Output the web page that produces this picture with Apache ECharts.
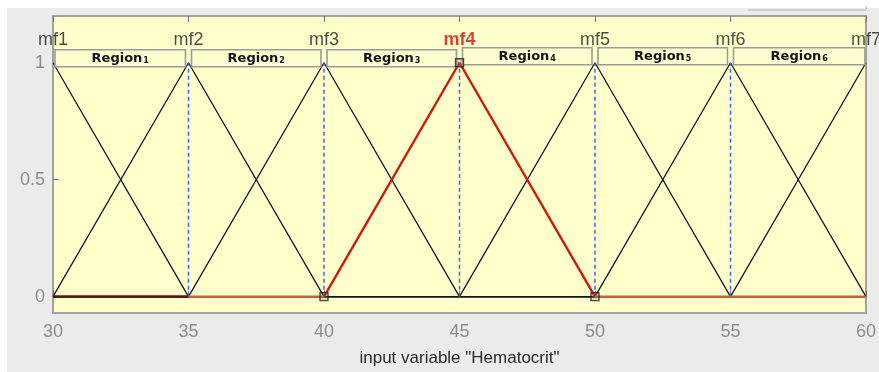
<!DOCTYPE html>
<html>
<head>
<meta charset="utf-8">
<script src="https://cdn.jsdelivr.net/npm/echarts@6/dist/echarts.min.js"></script>
<style>
  html, body { margin: 0; padding: 0; background: #ffffff; }
  #chart { width: 879px; height: 372px; }
</style>
</head>
<body>
<div id="chart"></div>
<script>
// Membership functions of the input variable "Hematocrit" (triangular: a, b, c)
const xTicks = [30, 35, 40, 45, 50, 55, 60];
const yTicks = [0, 0.5, 1];
const mfNames = ['mf1', 'mf2', 'mf3', 'mf4', 'mf5', 'mf6', 'mf7'];
const mfParams = [
  [25, 30, 35],
  [30, 35, 40],
  [35, 40, 45],
  [40, 45, 50],
  [45, 50, 55],
  [50, 55, 60],
  [55, 60, 65]
];
const selectedMf = 'mf4';
const regionNames = ['Region', 'Region', 'Region', 'Region', 'Region', 'Region'];
const regionIds = ['1', '2', '3', '4', '5', '6'];
const regionSpans = [[30, 35], [35, 40], [40, 45], [45, 50], [50, 55], [55, 60]];
const axisTitle = 'input variable "Hematocrit"';

const xMin = xTicks[0], xMax = xTicks[xTicks.length - 1];

function trimf(x, p) {
  const [a, b, c] = p;
  if (x <= a || x >= c) return x === b ? 1 : 0;
  if (x <= b) return (x - a) / (b - a);
  return (c - x) / (c - b);
}
function curve(p, lo, hi) {
  lo = lo === undefined ? xMin : lo;
  hi = hi === undefined ? xMax : hi;
  const xs = [lo, hi].concat(p).filter(v => v >= lo && v <= hi);
  const uniq = Array.from(new Set(xs)).sort((u, v) => u - v);
  return uniq.map(x => [x, trimf(x, p)]);
}

const series = [];
mfNames.forEach((name, i) => {
  if (name === selectedMf) return;
  series.push({
    type: 'line', name, data: curve(mfParams[i]), symbol: 'none',
    lineStyle: { color: '#161616', width: 1.3 }, z: 2, silent: true
  });
});

// selected function, drawn piecewise: flat parts in brown, the triangle in red
const selIdx = mfNames.indexOf(selectedMf);
const selParams = mfParams[selIdx];
const cuts = [xMin, mfParams[0][2], selParams[0], selParams[2], xMax];
const cutColors = ['#5a1c12', '#c4643c', '#d2180c', '#c4643c'];
for (let k = 0; k < cuts.length - 1; k++) {
  series.push({
    type: 'line', name: selectedMf, data: curve(selParams, cuts[k], cuts[k + 1]), symbol: 'none',
    lineStyle: { width: k === 0 ? 2.8 : 2.4, color: cutColors[k] }, z: 4, silent: true
  });
}

// dashed guides at interior peaks
mfParams.map(p => p[1]).filter(b => b > xMin && b < xMax).forEach(b => {
  series.push({
    type: 'line', data: [[b, 0], [b, 1]], symbol: 'none', silent: true, z: 3,
    lineStyle: { color: '#3a62ff', type: [4, 3], width: 1.5 }
  });
});

// vertex handles of the selected function
series.push({
  type: 'scatter', data: selParams.map(v => [v, trimf(v, selParams)]),
  symbol: 'rect', symbolSize: 8,
  itemStyle: { color: 'rgba(120,120,120,0.35)', borderColor: '#222', borderWidth: 1.4 },
  z: 6, silent: true
});

// function names above the peaks
series.push({
  type: 'scatter', symbolSize: 0, silent: true, z: 7,
  data: mfNames.map((n, i) => ({ value: [mfParams[i][1], 1], name: n })),
  label: {
    show: true, position: 'top', distance: 14,
    formatter: d => d.name,
    fontFamily: 'Liberation Sans, Arial, sans-serif', fontSize: 18,
    color: '#1e1e1e'
  },
  labelLayout: { hideOverlap: false }
});
series[series.length - 1].data[selIdx].label = { color: '#d0140c', fontWeight: 'bold' };

// region boxes
series.push({
  type: 'custom', z: 5, silent: true,
  data: regionSpans.map((s, i) => [s[0], s[1], i]),
  renderItem(params, api) {
    const i = api.value(2);
    const lift = i >= 3 ? 2 : 0;
    const p0 = api.coord([api.value(0), 1]);
    const p1 = api.coord([api.value(1), 1]);
    const x0 = p0[0] + (i === 0 ? 2 : 3);
    const x1 = p1[0] - (i === 5 ? 1 : 3);
    const top = p0[1] - 13 - lift;
    const h = 17;
    return {
      type: 'group',
      children: [
        {
          type: 'rect',
          shape: { x: x0, y: top, width: x1 - x0, height: h },
          style: { fill: '#fdfdd0', stroke: '#9c9c96', lineWidth: 1.6 }
        },
        {
          type: 'text',
          style: {
            x: (x0 + x1) / 2, y: top + h / 2 + 0.5,
            align: 'center', verticalAlign: 'middle',
            text: '{r|' + regionNames[i] + '}{s|' + regionIds[i] + '}',
            rich: {
              r: { fontFamily: 'DejaVu Sans, Verdana, sans-serif', fontWeight: 'bold', fontSize: 13, fill: '#141414' },
              s: { fontFamily: 'DejaVu Sans, Verdana, sans-serif', fontWeight: 'bold', fontSize: 8, fill: '#141414', padding: [5, 0, 0, 1] }
            }
          }
        }
      ]
    };
  }
});

const tickLabelStyle = {
  color: '#8c8c8c', fontSize: 18, fontFamily: 'Liberation Sans, Arial, sans-serif'
};

const option = {
  backgroundColor: '#ffffff',
  animation: false,
  graphic: [
    { type: 'rect', z: -100, shape: { x: 7, y: 8, width: 872, height: 364 }, style: { fill: '#ebebeb' } },
    { type: 'polyline', z: -99, shape: { points: [[748, 10], [866, 10], [866, 6]] }, style: { stroke: '#b0b0b0', lineWidth: 1, fill: null } }
  ],
  grid: {
    left: 53, right: 12, top: 16, bottom: 57,
    show: true, backgroundColor: '#ffffcc', borderColor: '#a2a2a2', borderWidth: 2
  },
  xAxis: [
    {
      type: 'value', min: xMin, max: xMax, interval: 5, position: 'bottom',
      axisLine: { show: false },
      axisTick: { show: true, inside: true, length: 6, lineStyle: { color: '#777', width: 1 } },
      axisLabel: Object.assign({ margin: 10 }, tickLabelStyle),
      splitLine: { show: false },
      name: axisTitle, nameLocation: 'middle', nameGap: 37,
      nameTextStyle: { color: '#2a2a2a', fontSize: 17, fontFamily: 'Liberation Sans, Arial, sans-serif' }
    },
    {
      type: 'value', min: xMin, max: xMax, interval: 5, position: 'top',
      axisLine: { show: false },
      axisTick: { show: true, inside: true, length: 6, lineStyle: { color: '#777', width: 1 } },
      axisLabel: { show: false }, splitLine: { show: false }
    }
  ],
  yAxis: {
    type: 'value', min: -0.07, max: 1.2,
    axisLine: { show: false },
    axisTick: { show: true, inside: true, length: 6, customValues: yTicks, lineStyle: { color: '#777', width: 1 } },
    axisLabel: Object.assign({ margin: 8, customValues: yTicks, formatter: v => String(v) }, tickLabelStyle),
    splitLine: { show: false }
  },
  series
};

echarts.init(document.getElementById('chart')).setOption(option);
</script>
</body>
</html>
